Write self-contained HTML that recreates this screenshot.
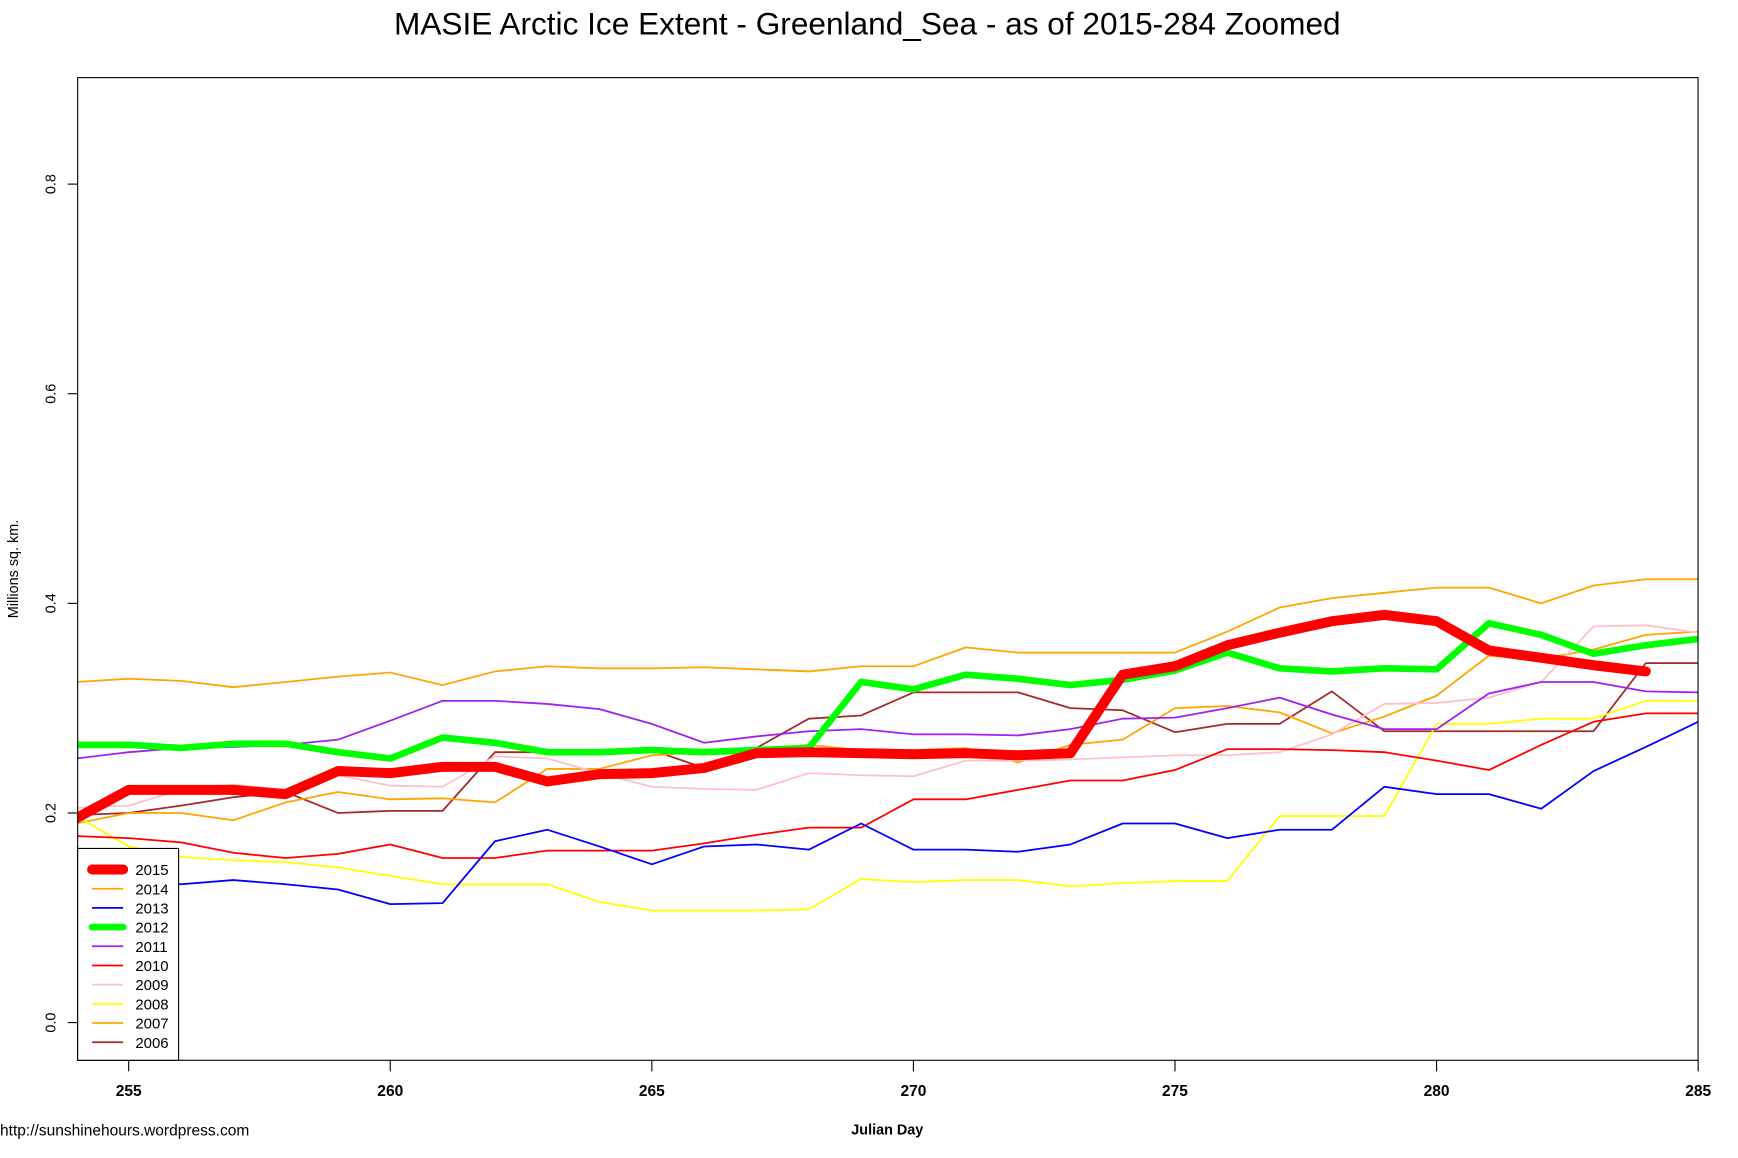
<!DOCTYPE html>
<html><head><meta charset="utf-8"><style>
html,body{margin:0;padding:0;background:#fff;}
svg{display:block;font-family:"Liberation Sans",Arial,sans-serif;}
</style></head><body>
<svg id="chart" width="1738" height="1158" viewBox="0 0 1567 1044.1" xmlns="http://www.w3.org/2000/svg">
<defs><clipPath id="pc"><rect x="70" y="70" width="1461" height="886"/></clipPath></defs>
<rect x="0" y="0" width="1570" height="1050" fill="#fff"/>
<text x="782" y="31" font-size="28.5" text-anchor="middle">MASIE Arctic Ice Extent - Greenland_Sea - as of 2015-284 Zoomed</text>
<g id="series" clip-path="url(#pc)"></g>
<rect x="70" y="70" width="1461" height="886" fill="none" stroke="#000" stroke-width="1"/>
<g id="axes"></g>
<text transform="translate(16,513) rotate(-90)" font-size="13" text-anchor="middle">Millions sq. km.</text>
<text x="800" y="1023" font-size="13" font-weight="bold" text-anchor="middle">Julian Day</text>
<text x="0" y="1024" font-size="14">http://sunshinehours.wordpress.com</text>
<g id="legend"></g>
</svg>
<script>
const days = [254,255,256,257,258,259,260,261,262,263,264,265,266,267,268,269,270,271,272,273,274,275,276,277,278,279,280,281,282,283,284,285];
const xTicks = [255,260,265,270,275,280,285];
const yTicks = [0.0,0.2,0.4,0.6,0.8];
const yTickLabels = ["0.0","0.2","0.4","0.6","0.8"];
const years = ["2015","2014","2013","2012","2011","2010","2009","2008","2007","2006"];
const colors = ["#ff0000","#ffa500","#0000ff","#00ff00","#a020f0","#ff0000","#ffc0cb","#ffff00","#ffa500","#a52a2a"];
const widths = [9,1.6,1.6,6,1.6,1.6,1.6,1.6,1.6,1.6];
const v2015 = [0.195,0.222,0.222,0.222,0.218,0.24,0.238,0.244,0.244,0.23,0.237,0.238,0.243,0.257,0.258,0.257,0.256,0.257,0.255,0.257,0.332,0.34,0.36,0.372,0.383,0.389,0.383,0.355,0.348,0.341,0.335];
const v2014 = [0.325,0.328,0.326,0.32,0.325,0.33,0.334,0.322,0.335,0.34,0.338,0.338,0.339,0.337,0.335,0.34,0.34,0.358,0.353,0.353,0.353,0.353,0.373,0.396,0.405,0.41,0.415,0.415,0.4,0.417,0.423,0.423];
const v2013 = [0.141,0.138,0.132,0.136,0.132,0.127,0.113,0.114,0.173,0.184,0.168,0.151,0.168,0.17,0.165,0.19,0.165,0.165,0.163,0.17,0.19,0.19,0.176,0.184,0.184,0.225,0.218,0.218,0.204,0.24,0.263,0.287];
const v2012 = [0.265,0.265,0.262,0.266,0.266,0.258,0.252,0.272,0.267,0.258,0.258,0.26,0.258,0.26,0.262,0.325,0.318,0.332,0.328,0.322,0.327,0.336,0.353,0.338,0.335,0.338,0.337,0.381,0.37,0.352,0.36,0.366];
const v2011 = [0.252,0.258,0.262,0.263,0.265,0.27,0.288,0.307,0.307,0.304,0.299,0.285,0.267,0.273,0.278,0.28,0.275,0.275,0.274,0.28,0.29,0.291,0.3,0.31,0.294,0.28,0.28,0.314,0.325,0.325,0.316,0.315];
const v2010 = [0.178,0.176,0.172,0.162,0.157,0.161,0.17,0.157,0.157,0.164,0.164,0.164,0.171,0.179,0.186,0.186,0.213,0.213,0.222,0.231,0.231,0.241,0.261,0.261,0.26,0.258,0.25,0.241,0.265,0.287,0.295,0.295];
const v2009 = [0.205,0.207,0.222,0.227,0.222,0.236,0.226,0.225,0.254,0.252,0.238,0.225,0.223,0.222,0.238,0.236,0.235,0.25,0.25,0.251,0.253,0.255,0.255,0.258,0.275,0.304,0.305,0.31,0.325,0.378,0.379,0.372];
const v2008 = [0.197,0.168,0.158,0.155,0.153,0.148,0.14,0.132,0.132,0.132,0.115,0.107,0.107,0.107,0.108,0.137,0.134,0.136,0.136,0.13,0.133,0.135,0.135,0.197,0.197,0.197,0.285,0.285,0.29,0.29,0.307,0.307];
const v2007 = [0.19,0.2,0.2,0.193,0.21,0.22,0.213,0.214,0.21,0.242,0.242,0.255,0.258,0.26,0.265,0.26,0.26,0.262,0.248,0.265,0.27,0.3,0.302,0.296,0.276,0.292,0.312,0.35,0.347,0.356,0.37,0.373];
const v2006 = [0.198,0.2,0.207,0.215,0.22,0.2,0.202,0.202,0.258,0.258,0.258,0.26,0.243,0.262,0.29,0.293,0.315,0.315,0.315,0.3,0.298,0.277,0.285,0.285,0.316,0.278,0.278,0.278,0.278,0.278,0.343,0.343];
const seriesVals = [v2015,v2014,v2013,v2012,v2011,v2010,v2009,v2008,v2007,v2006];

const NS="http://www.w3.org/2000/svg";
function xs(d){return 116+(d-255)*47.17;}
function ys(v){return 922-v*945;}
const sg=document.getElementById('series');
for(let i=years.length-1;i>=0;i--){
  const vals=seriesVals[i];
  const pts=vals.map((v,k)=>xs(days[k]).toFixed(1)+','+ys(v).toFixed(1)).join(' ');
  const pl=document.createElementNS(NS,'polyline');
  
  
  pl.setAttribute('points',pts);
  pl.setAttribute('fill','none');
  pl.setAttribute('stroke',colors[i]);
  pl.setAttribute('stroke-width',widths[i]);
  pl.setAttribute('stroke-linejoin','round');
  pl.setAttribute('stroke-linecap','round');
  sg.appendChild(pl);
}
const ag=document.getElementById('axes');
xTicks.forEach(t=>{
  const x=xs(t);
  const l=document.createElementNS(NS,'line');
  
  
  l.setAttribute('x1',x);l.setAttribute('x2',x);l.setAttribute('y1',956);l.setAttribute('y2',966);
  l.setAttribute('stroke','#000');
  ag.appendChild(l);
  const tx=document.createElementNS(NS,'text');
  
  
  tx.setAttribute('x',x);tx.setAttribute('y',988);
  tx.setAttribute('font-size','14');tx.setAttribute('font-weight','bold');tx.setAttribute('text-anchor','middle');
  tx.textContent=t;
  ag.appendChild(tx);
});
yTicks.forEach((t,i)=>{
  const y=ys(t);
  const l=document.createElementNS(NS,'line');
  
  
  l.setAttribute('x1',61);l.setAttribute('x2',70);l.setAttribute('y1',y);l.setAttribute('y2',y);
  l.setAttribute('stroke','#000');
  ag.appendChild(l);
  const tx=document.createElementNS(NS,'text');
  
  
  tx.setAttribute('transform','translate(50,'+y+') rotate(-90)');
  tx.setAttribute('font-size','13');tx.setAttribute('text-anchor','middle');
  tx.textContent=yTickLabels[i];
  ag.appendChild(tx);
});
const lg=document.getElementById('legend');
const box=document.createElementNS(NS,'rect');


box.setAttribute('x',70);box.setAttribute('y',765);box.setAttribute('width',91);box.setAttribute('height',191);
box.setAttribute('fill','#fff');box.setAttribute('stroke','#000');
lg.appendChild(box);
years.forEach((yr,i)=>{
  const y=784+i*17.3;
  const l=document.createElementNS(NS,'line');
  
  
  l.setAttribute('x1',83);l.setAttribute('x2',111);l.setAttribute('y1',y);l.setAttribute('y2',y);
  l.setAttribute('stroke',colors[i]);l.setAttribute('stroke-width',widths[i]);l.setAttribute('stroke-linecap',widths[i]>3?'round':'butt');
  lg.appendChild(l);
  const tx=document.createElementNS(NS,'text');
  
  
  tx.setAttribute('x',122);tx.setAttribute('y',y+5);tx.setAttribute('font-size','13.5');
  tx.textContent=yr;
  lg.appendChild(tx);
});
</script>
</body></html>
